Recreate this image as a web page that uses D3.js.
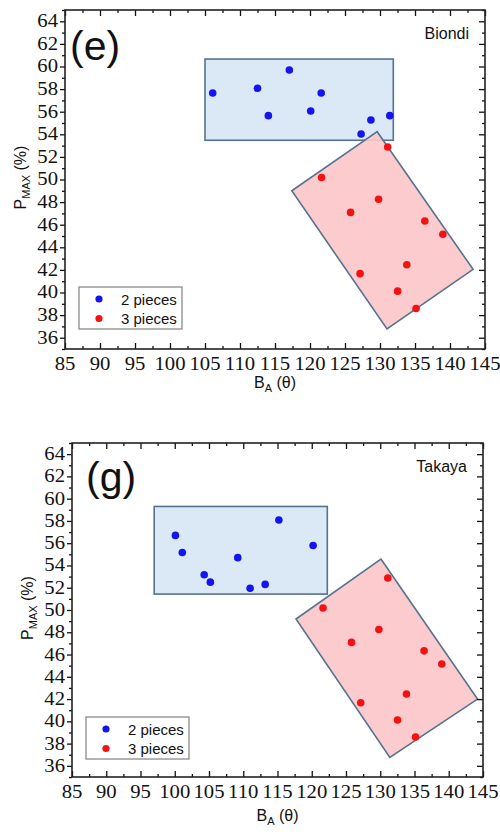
<!DOCTYPE html>
<html>
<head>
<meta charset="utf-8">
<script src="https://cdn.jsdelivr.net/npm/d3@7"></script>
<style>
  body { margin: 0; background: #fff; }
  svg { display: block; }
  text.tl { font-family: "Liberation Serif", "DejaVu Serif", serif; font-size: 18px; fill: #111; }
</style>
</head>
<body>
<div id="chart"></div>
<script>
// tick labels
const xTickValues = [85, 90, 95, 100, 105, 110, 115, 120, 125, 130, 135, 140, 145];
const yTickValues = [36, 38, 40, 42, 44, 46, 48, 50, 52, 54, 56, 58, 60, 62, 64];

// 2 pieces, Biondi
const biondiTwoX = [106.1, 112.5, 117.05, 114.05, 121.6, 120.1, 128.7, 131.4, 127.3];
const biondiTwoY = [57.65, 58.07, 59.69, 55.65, 57.65, 56.06, 55.27, 55.65, 54.03];

// 2 pieces, Takaya
const takayaTwoX = [100.1, 101.1, 104.3, 105.2, 109.2, 111.0, 113.2, 115.2, 120.2];
const takayaTwoY = [56.7, 55.17, 53.17, 52.5, 54.7, 51.96, 52.3, 58.08, 55.8];

// 3 pieces (same in both panels)
const threeX = [131.1, 121.65, 129.8, 125.8, 136.4, 138.98, 133.83, 127.15, 132.52, 135.15];
const threeY = [52.88, 50.18, 48.25, 47.09, 46.33, 45.15, 42.46, 41.67, 40.12, 38.59];

// shaded regions (data units)
const biondiBoxX = [105.0, 131.9];
const biondiBoxY = [53.47, 60.66];
const biondiPolyX = [129.6, 143.3, 131.0, 117.4];
const biondiPolyY = [54.23, 42.05, 36.77, 49.0];

const takayaBoxX = [97.0, 122.27];
const takayaBoxY = [51.43, 59.3];
const takayaPolyX = [130.1, 144.2, 131.4, 117.7];
const takayaPolyY = [54.58, 42.0, 36.75, 49.19];

const seriesNames = ["2 pieces", "3 pieces"];
const seriesColors = ["#1414f0", "#f21212"];

const W = 500, H = 832;
const sans = "Arial, 'Liberation Sans', sans-serif";
const svg = d3.select("#chart").append("svg")
  .attr("width", W)
  .attr("height", H);

function drawPanel(cfg) {
  const x = d3.scaleLinear().domain([85, 145]).range([cfg.left, cfg.right]);
  const y = d3.scaleLinear().domain([35, 65]).range([cfg.bottom, cfg.top]);
  const g = svg.append("g");

  // shaded regions
  g.append("rect")
    .attr("x", x(cfg.boxX[0]))
    .attr("y", y(cfg.boxY[1]))
    .attr("width", x(cfg.boxX[1]) - x(cfg.boxX[0]))
    .attr("height", y(cfg.boxY[0]) - y(cfg.boxY[1]))
    .attr("fill", "#dbe8f5")
    .attr("stroke", "#55728f")
    .attr("stroke-width", 1.6);

  let poly = cfg.polyX.map((v, i) => [v, cfg.polyY[i]]);
  g.append("path")
    .attr("d", d3.line().x(d => x(d[0])).y(d => y(d[1]))(poly) + "Z")
    .attr("fill", "#fcc7c9")
    .attr("fill-opacity", 0.92)
    .attr("stroke", "#55728f")
    .attr("stroke-width", 1.6);

  // points
  let two = cfg.twoX.map((v, i) => [v, cfg.twoY[i]]);
  let three = threeX.map((v, i) => [v, threeY[i]]);
  g.selectAll(".two").data(two).enter().append("circle")
    .attr("cx", d => x(d[0])).attr("cy", d => y(d[1]))
    .attr("r", 3.8).attr("fill", seriesColors[0]);
  g.selectAll(".three").data(three).enter().append("circle")
    .attr("cx", d => x(d[0])).attr("cy", d => y(d[1]))
    .attr("r", 3.8).attr("fill", seriesColors[1]);

  // axes (tick marks only, labels drawn below)
  const xMinor = d3.pairs(xTickValues).map(p => (p[0] + p[1]) / 2);
  const yMinor = d3.pairs(yTickValues).map(p => (p[0] + p[1]) / 2).concat([35, 65]);

  const strip = a => a.call(s => s.select(".domain").remove())
    .call(s => s.selectAll("line").attr("stroke", "#111").attr("stroke-width", 1.3));

  const marks = [
    [d3.axisBottom, `translate(0,${cfg.bottom})`, x, xTickValues, -6],
    [d3.axisBottom, `translate(0,${cfg.bottom})`, x, xMinor, -3],
    [d3.axisTop, `translate(0,${cfg.top})`, x, xTickValues, -6],
    [d3.axisTop, `translate(0,${cfg.top})`, x, xMinor, -3],
    [d3.axisLeft, `translate(${cfg.left},0)`, y, yTickValues, 5],
    [d3.axisLeft, `translate(${cfg.left},0)`, y, yMinor, 3],
    [d3.axisRight, `translate(${cfg.right},0)`, y, yTickValues, -6],
    [d3.axisRight, `translate(${cfg.right},0)`, y, yMinor, -3]
  ];
  marks.forEach(([axis, tr, sc, vals, size]) => {
    g.append("g").attr("transform", tr)
      .call(axis(sc).tickValues(vals).tickSize(size).tickFormat(""))
      .call(strip);
  });

  // tick labels
  g.selectAll(".xl").data(xTickValues).enter().append("text")
    .attr("class", "tl")
    .attr("x", d => x(d)).attr("y", cfg.bottom + 21)
    .attr("text-anchor", "middle")
    .attr("transform", d => `translate(${x(d)},0) scale(1.15,1) translate(${-x(d)},0)`)
    .text(d => d);
  g.selectAll(".yl").data(yTickValues).enter().append("text")
    .attr("class", "tl")
    .attr("x", cfg.left - 7).attr("y", d => y(d) + 6)
    .attr("text-anchor", "end")
    .attr("transform", `translate(${cfg.left - 7},0) scale(1.15,1) translate(${-(cfg.left - 7)},0)`)
    .text(d => d);

  // frame
  g.append("rect")
    .attr("x", cfg.left).attr("y", cfg.top)
    .attr("width", cfg.right - cfg.left).attr("height", cfg.bottom - cfg.top)
    .attr("fill", "none").attr("stroke", "#222").attr("stroke-width", 1.6);

  // panel letter and name
  g.append("text")
    .attr("x", cfg.left + cfg.letterDx).attr("y", cfg.top + cfg.letterDy)
    .style("font-family", sans)
    .style("font-size", "41px")
    .attr("fill", "#111")
    .text(cfg.letter);
  g.append("text")
    .attr("x", cfg.right - 16).attr("y", cfg.top + 29)
    .attr("text-anchor", "end")
    .style("font-family", sans)
    .style("font-size", "16px")
    .attr("fill", "#111")
    .text(cfg.name);

  // axis titles
  const xt = g.append("text")
    .attr("x", (cfg.left + cfg.right) / 2).attr("y", cfg.bottom + cfg.xTitleDy)
    .attr("text-anchor", "middle")
    .style("font-family", sans)
    .style("font-size", "16px")
    .attr("fill", "#111");
  xt.append("tspan").text("B");
  xt.append("tspan").style("font-size", "11px").attr("dy", 4).text("A");
  xt.append("tspan").attr("dy", -4).text(" (\u03b8)");

  const yt = g.append("text")
    .attr("transform", `translate(${cfg.left - 39},${(cfg.top + cfg.bottom) / 2 - 2}) rotate(-90)`)
    .attr("text-anchor", "middle")
    .style("font-family", sans)
    .style("font-size", "16px")
    .attr("fill", "#111");
  yt.append("tspan").text("P");
  yt.append("tspan").style("font-size", "11px").attr("dy", 4).text("MAX");
  yt.append("tspan").attr("dy", -4).text(" (%)");

  // legend
  const lg = g.append("g").attr("transform", `translate(${cfg.legendX},${cfg.legendY})`);
  lg.append("rect")
    .attr("width", 103).attr("height", 42)
    .attr("fill", "#fff").attr("stroke", "#808080").attr("stroke-width", 1.2);
  seriesNames.forEach((name, i) => {
    lg.append("circle")
      .attr("cx", 20).attr("cy", 12 + i * 19.5)
      .attr("r", 3.6).attr("fill", seriesColors[i]);
    lg.append("text")
      .attr("x", 42).attr("y", 12 + i * 19.5 + 5.5)
      .style("font-family", sans)
      .style("font-size", "15px")
      .attr("fill", "#111")
      .text(name);
  });
}

drawPanel({
  left: 65, right: 485, top: 10, bottom: 349,
  twoX: biondiTwoX, twoY: biondiTwoY,
  boxX: biondiBoxX, boxY: biondiBoxY,
  polyX: biondiPolyX, polyY: biondiPolyY,
  letter: "(e)", name: "Biondi", letterDx: 5, letterDy: 50,
  legendX: 79, legendY: 287, xTitleDy: 39
});

drawPanel({
  left: 72, right: 483, top: 443, bottom: 777,
  twoX: takayaTwoX, twoY: takayaTwoY,
  boxX: takayaBoxX, boxY: takayaBoxY,
  polyX: takayaPolyX, polyY: takayaPolyY,
  letter: "(g)", name: "Takaya", letterDx: 14, letterDy: 48,
  legendX: 86, legendY: 717, xTitleDy: 44
});
</script>
</body>
</html>
